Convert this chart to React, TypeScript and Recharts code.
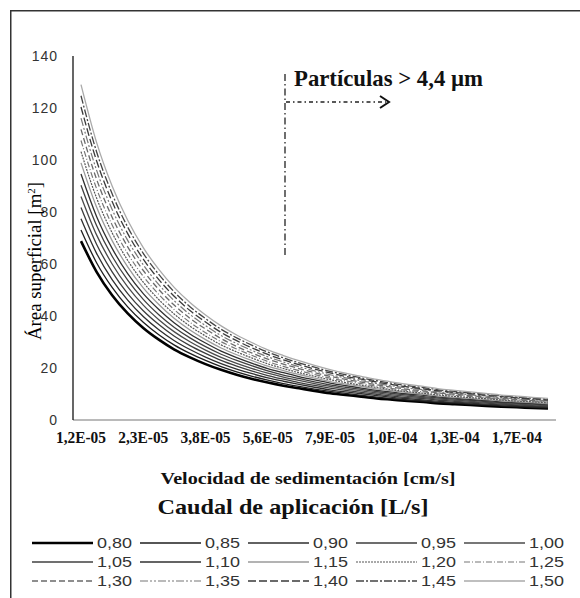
import { LineChart, Line, XAxis, YAxis } from 'recharts'

// velocidad de sedimentación (cm/s) — only every 4th label is shown on the axis
const categories = [
  '1,2E-05', '1,4E-05', '1,7E-05', '2,0E-05', '2,3E-05', '2,7E-05', '3,0E-05', '3,4E-05',
  '3,8E-05', '4,3E-05', '4,7E-05', '5,2E-05', '5,6E-05', '6,2E-05', '6,8E-05', '7,4E-05',
  '7,9E-05', '8,6E-05', '9,2E-05', '9,6E-05', '1,0E-04', '1,1E-04', '1,2E-04', '1,25E-04',
  '1,3E-04', '1,4E-04', '1,5E-04', '1,6E-04', '1,7E-04', '1,8E-04', '1,9E-04',
]

const yTicks = [0, 20, 40, 60, 80, 100, 120, 140]

// área superficial (m2) per caudal de aplicación (L/s)
const q080 = [68.8, 57.0, 48.0, 41.0, 35.4, 30.9, 27.1, 24.1, 21.5, 19.3, 17.4, 15.8, 14.4, 13.2, 12.2, 11.2, 10.3, 9.6, 9.0, 8.3, 7.8, 7.3, 6.9, 6.4, 6.1, 5.8, 5.4, 5.1, 4.9, 4.6, 4.4]
const q085 = [73.1, 60.5, 51.0, 43.5, 37.6, 32.8, 28.8, 25.6, 22.9, 20.5, 18.5, 16.8, 15.3, 14.0, 12.9, 11.9, 11.0, 10.2, 9.5, 8.8, 8.2, 7.7, 7.3, 6.8, 6.5, 6.1, 5.8, 5.4, 5.2, 4.9, 4.7]
const q090 = [77.4, 64.1, 54.0, 46.1, 39.8, 34.7, 30.5, 27.1, 24.2, 21.7, 19.6, 17.8, 16.2, 14.9, 13.7, 12.6, 11.6, 10.8, 10.1, 9.4, 8.7, 8.2, 7.7, 7.2, 6.8, 6.5, 6.1, 5.8, 5.5, 5.2, 5.0]
const q095 = [81.7, 67.6, 57.0, 48.6, 42.0, 36.7, 32.2, 28.6, 25.6, 22.9, 20.7, 18.8, 17.1, 15.7, 14.4, 13.3, 12.3, 11.4, 10.6, 9.9, 9.2, 8.6, 8.2, 7.6, 7.2, 6.8, 6.5, 6.1, 5.8, 5.5, 5.2]
const q100 = [86.0, 71.2, 60.0, 51.2, 44.2, 38.6, 33.9, 30.1, 26.9, 24.1, 21.8, 19.8, 18.0, 16.5, 15.2, 14.0, 12.9, 12.0, 11.2, 10.4, 9.7, 9.1, 8.6, 8.0, 7.6, 7.2, 6.8, 6.4, 6.1, 5.8, 5.5]
const q105 = [90.3, 74.8, 63.0, 53.8, 46.4, 40.5, 35.6, 31.6, 28.2, 25.3, 22.9, 20.8, 18.9, 17.3, 16.0, 14.7, 13.5, 12.6, 11.8, 10.9, 10.2, 9.6, 9.0, 8.4, 8.0, 7.6, 7.1, 6.7, 6.4, 6.1, 5.8]
const q110 = [94.6, 78.3, 66.0, 56.3, 48.6, 42.5, 37.3, 33.1, 29.6, 26.5, 24.0, 21.8, 19.8, 18.2, 16.7, 15.4, 14.2, 13.2, 12.3, 11.4, 10.7, 10.0, 9.5, 8.8, 8.4, 7.9, 7.5, 7.0, 6.7, 6.4, 6.1]
const q115 = [98.9, 81.9, 69.0, 58.9, 50.8, 44.4, 39.0, 34.6, 30.9, 27.7, 25.1, 22.8, 20.7, 19.0, 17.5, 16.1, 14.8, 13.8, 12.9, 12.0, 11.2, 10.5, 9.9, 9.2, 8.7, 8.3, 7.8, 7.4, 7.0, 6.7, 6.3]
const q120 = [103.2, 85.4, 72.0, 61.4, 53.0, 46.3, 40.7, 36.1, 32.3, 28.9, 26.2, 23.8, 21.6, 19.8, 18.2, 16.8, 15.5, 14.4, 13.4, 12.5, 11.6, 10.9, 10.3, 9.6, 9.1, 8.6, 8.2, 7.7, 7.3, 7.0, 6.6]
const q125 = [107.5, 89.0, 75.0, 64.0, 55.3, 48.3, 42.4, 37.6, 33.6, 30.1, 27.3, 24.8, 22.5, 20.6, 19.0, 17.5, 16.1, 15.0, 14.0, 13.0, 12.1, 11.4, 10.8, 10.0, 9.5, 9.0, 8.5, 8.0, 7.6, 7.3, 6.9]
const q130 = [111.8, 92.6, 78.0, 66.6, 57.5, 50.2, 44.1, 39.1, 35.0, 31.3, 28.3, 25.7, 23.4, 21.5, 19.8, 18.2, 16.8, 15.6, 14.6, 13.5, 12.6, 11.8, 11.2, 10.4, 9.9, 9.4, 8.8, 8.3, 7.9, 7.5, 7.2]
const q135 = [116.1, 96.1, 81.0, 69.1, 59.7, 52.1, 45.8, 40.6, 36.3, 32.5, 29.4, 26.7, 24.3, 22.3, 20.5, 18.9, 17.4, 16.2, 15.1, 14.0, 13.1, 12.3, 11.6, 10.8, 10.3, 9.7, 9.2, 8.6, 8.2, 7.8, 7.4]
const q140 = [120.4, 99.7, 84.0, 71.7, 61.9, 54.0, 47.5, 42.1, 37.7, 33.7, 30.5, 27.7, 25.2, 23.1, 21.3, 19.6, 18.1, 16.8, 15.7, 14.6, 13.6, 12.7, 12.0, 11.2, 10.6, 10.1, 9.5, 9.0, 8.5, 8.1, 7.7]
const q145 = [124.7, 103.2, 87.0, 74.2, 64.1, 56.0, 49.2, 43.6, 39.0, 34.9, 31.6, 28.7, 26.1, 23.9, 22.0, 20.3, 18.7, 17.4, 16.2, 15.1, 14.1, 13.2, 12.5, 11.6, 11.0, 10.4, 9.9, 9.3, 8.8, 8.4, 8.0]
const q150 = [129.0, 106.8, 90.0, 76.8, 66.3, 57.9, 50.9, 45.2, 40.4, 36.2, 32.7, 29.7, 27.0, 24.8, 22.8, 21.0, 19.4, 18.0, 16.8, 15.6, 14.6, 13.7, 12.9, 12.0, 11.4, 10.8, 10.2, 9.6, 9.2, 8.7, 8.3]

const seriesNames = ['0,80', '0,85', '0,90', '0,95', '1,00', '1,05', '1,10', '1,15', '1,20', '1,25', '1,30', '1,35', '1,40', '1,45', '1,50']
const seriesValues = [q080, q085, q090, q095, q100, q105, q110, q115, q120, q125, q130, q135, q140, q145, q150]

const styles = [
  { stroke: '#000000', width: 2.6, dash: undefined },
  { stroke: '#1e1e1e', width: 1.3, dash: undefined },
  { stroke: '#2e2e2e', width: 1.3, dash: undefined },
  { stroke: '#3c3c3c', width: 1.3, dash: undefined },
  { stroke: '#4a4a4a', width: 1.3, dash: undefined },
  { stroke: '#404040', width: 1.3, dash: undefined },
  { stroke: '#303030', width: 1.3, dash: undefined },
  { stroke: '#9a9a9a', width: 1.3, dash: undefined },
  { stroke: '#555555', width: 1.2, dash: '2 1' },
  { stroke: '#777777', width: 1.2, dash: '6 2 1 2' },
  { stroke: '#6a6a6a', width: 1.3, dash: '6 3' },
  { stroke: '#777777', width: 1.2, dash: '8 2 2 2 2 2' },
  { stroke: '#3a3a3a', width: 1.3, dash: '8 3' },
  { stroke: '#444444', width: 1.3, dash: '8 2 2 2' },
  { stroke: '#aaaaaa', width: 1.3, dash: undefined },
]

const data = categories.map((cat, i) => {
  const row: Record<string, string | number> = { v: cat }
  seriesNames.forEach((name, s) => {
    row[name] = seriesValues[s][i]
  })
  return row
})

const serif = "'Liberation Serif', 'Times New Roman', serif"
const sans = "'Liberation Sans', Arial, sans-serif"

function XTick(props: any) {
  const { x, y, payload } = props
  return (
    <text
      x={x}
      y={y + 15}
      textAnchor="middle"
      fontFamily={serif}
      fontWeight="bold"
      fontSize={16}
      fill="#111"
      textLength={50}
      lengthAdjust="spacingAndGlyphs"
    >
      {payload.value}
    </text>
  )
}

export default function App() {
  return (
    <div style={{ position: 'absolute', left: 0, top: 0, width: 580, height: 598, background: '#fff', overflow: 'hidden' }}>
      <LineChart width={580} height={598} data={data} margin={{ top: 56, right: 24, left: 0, bottom: 148 }}>
        <XAxis
          dataKey="v"
          interval={3}
          padding={{ left: 8, right: 8 }}
          tickLine={false}
          axisLine={{ stroke: '#777', strokeWidth: 1.2 }}
          tick={XTick}
          height={30}
        />
        <YAxis
          width={73}
          domain={[0, 140]}
          ticks={yTicks}
          tickLine={false}
          tickMargin={9}
          axisLine={{ stroke: '#000', strokeWidth: 1.2 }}
          tick={{ fill: '#333', fontSize: 14, fontFamily: sans, letterSpacing: 1 }}
        />
        {seriesNames.map((name, s) => (
          <Line
            key={name}
            type="monotone"
            dataKey={name}
            stroke={styles[s].stroke}
            strokeWidth={styles[s].width}
            strokeDasharray={styles[s].dash}
            dot={false}
            activeDot={false}
            isAnimationActive={false}
          />
        ))}
      </LineChart>

      <svg width={580} height={598} style={{ position: 'absolute', left: 0, top: 0, pointerEvents: 'none' }}>
        <path d="M10.75 600 V10.75 H590" fill="none" stroke="#333" strokeWidth={1.5} />

        <text
          x={0}
          y={0}
          transform="translate(41 261) rotate(-90)"
          textAnchor="middle"
          fontFamily={serif}
          fontSize={19}
          fill="#000"
          textLength={158}
          lengthAdjust="spacingAndGlyphs"
        >
          Área superficial [m<tspan dy={-6} fontSize={11}>2</tspan><tspan dy={6}>]</tspan>
        </text>

        <line x1={285} y1={74} x2={285} y2={258} stroke="#222" strokeWidth={1.3} strokeDasharray="7 3 1.5 3" />
        <line x1={286} y1={102} x2={386} y2={102} stroke="#222" strokeWidth={1.3} strokeDasharray="4 3 1.5 3" />
        <polyline points="380,96 389,102 380,108" fill="none" stroke="#111" strokeWidth={2} />
        <text
          x={294}
          y={86}
          fontFamily={serif}
          fontWeight="bold"
          fontSize={24}
          fill="#111"
          textLength={189}
          lengthAdjust="spacingAndGlyphs"
        >
          Partículas &gt; 4,4 µm
        </text>

        <text
          x={308}
          y={484}
          textAnchor="middle"
          fontFamily={serif}
          fontWeight="bold"
          fontSize={17}
          fill="#111"
          textLength={295}
          lengthAdjust="spacingAndGlyphs"
        >
          Velocidad de sedimentación [cm/s]
        </text>
        <text
          x={293}
          y={514}
          textAnchor="middle"
          fontFamily={serif}
          fontWeight="bold"
          fontSize={22}
          fill="#111"
          textLength={271}
          lengthAdjust="spacingAndGlyphs"
        >
          Caudal de aplicación [L/s]
        </text>

        {seriesNames.map((name, s) => {
          const col = s % 5
          const row = Math.floor(s / 5)
          const x0 = 32 + col * 108
          const y = 543 + row * 19
          return (
            <g key={name}>
              <line
                x1={x0}
                y1={y}
                x2={x0 + 61}
                y2={y}
                stroke={styles[s].stroke}
                strokeWidth={styles[s].width}
                strokeDasharray={styles[s].dash}
              />
              <text
                x={x0 + 65}
                y={y + 5}
                fontFamily={sans}
                fontSize={14}
                fill="#333"
                textLength={35}
                lengthAdjust="spacingAndGlyphs"
              >
                {name}
              </text>
            </g>
          )
        })}
      </svg>
    </div>
  )
}
